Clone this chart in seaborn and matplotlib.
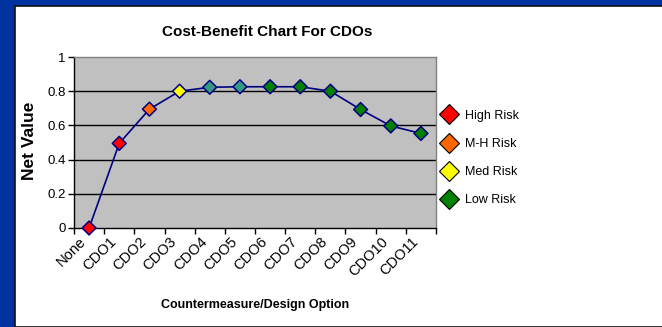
import numpy as np
import pandas as pd
import matplotlib
matplotlib.use('Agg')
import matplotlib.pyplot as plt
import seaborn as sns
from matplotlib.lines import Line2D
from matplotlib.patches import Rectangle

# data
options = ['None', 'CDO1', 'CDO2', 'CDO3', 'CDO4', 'CDO5', 'CDO6',
           'CDO7', 'CDO8', 'CDO9', 'CDO10', 'CDO11']
net_value = [0.0, 0.495, 0.695, 0.80, 0.823, 0.826, 0.826,
             0.826, 0.80, 0.693, 0.597, 0.553]
marker_colors = ['#FF0000', '#FF0000', '#FF6600', '#FFFF00', '#339980', '#339980',
                 '#008000', '#008000', '#008000', '#008000', '#008000', '#008000']
legend_labels = ['High Risk', 'M-H Risk', 'Med Risk', 'Low Risk']
legend_colors = ['#FF0000', '#FF6600', '#FFFF00', '#008000']
y_ticks = [0, 0.2, 0.4, 0.6, 0.8, 1]

sns.set_style('white')
plt.rcParams['font.family'] = ['Liberation Sans', 'DejaVu Sans']
plt.rcParams['text.color'] = 'black'
plt.rcParams['xtick.color'] = 'black'
plt.rcParams['ytick.color'] = 'black'

df = pd.DataFrame({'pos': np.arange(len(options)), 'option': options,
                   'value': net_value, 'color': marker_colors})

W, H = 662, 327
fig = plt.figure(figsize=(W / 100, H / 100), dpi=100, facecolor='#0033A0')
# white slide panel with dark edge
fig.patches.append(Rectangle((15 / W, 0), 1, 1 - 6 / H, transform=fig.transFigure,
                             facecolor='white', edgecolor='#101010', linewidth=1.2,
                             zorder=-5))

ax = fig.add_axes([74 / W, 1 - 228 / H, (436 - 74) / W, (228 - 57) / H])
ax.set_zorder(2)
ax.set_facecolor('#C0C0C0')

sns.lineplot(data=df, x='pos', y='value', color='#000080', linewidth=1.2, ax=ax,
             zorder=3)
sns.scatterplot(data=df, x='pos', y='value', hue='option',
                palette=dict(zip(options, marker_colors)), marker='D', s=50,
                edgecolor='#000080', linewidth=1.1, legend=False, ax=ax, zorder=4,
                clip_on=False)

ax.set_xlim(-0.5, len(options) - 0.5)
ax.set_ylim(0, 1)
ax.set_yticks(y_ticks)
ax.set_yticklabels(['0', '0.2', '0.4', '0.6', '0.8', '1'], fontsize=9.5)
for yv in y_ticks[1:-1]:
    ax.axhline(yv, color='black', linewidth=1.0, zorder=1)

# tick marks on the category edges, labels just left of the centres
ax.set_xticks(np.arange(-0.5, len(options), 1.0))
ax.set_xticklabels([])
ax.set_xticks(np.arange(len(options)) - 0.33, minor=True)
ax.set_xticklabels(options, minor=True, rotation=45, ha='right', va='top',
                   rotation_mode='anchor', fontsize=10.5)
ax.tick_params(axis='x', which='major', direction='out', length=4, width=1,
               color='black', bottom=True)
ax.tick_params(axis='x', which='minor', length=0, pad=5)
ax.tick_params(axis='y', direction='out', length=4, width=1, color='black', left=True,
               pad=2)

for side in ['top', 'right']:
    ax.spines[side].set_color('#808080')
    ax.spines[side].set_linewidth(1.0)
for side in ['left', 'bottom']:
    ax.spines[side].set_color('black')
    ax.spines[side].set_linewidth(1.0)

ax.set_xlabel('')
ax.set_ylabel('')
fig.text(267 / W, 1 - 32 / H, 'Cost-Benefit Chart For CDOs', ha='center', va='center',
         fontsize=11, fontweight='bold')
fig.text(255 / W, 1 - 305 / H, 'Countermeasure/Design Option', ha='center',
         va='center', fontsize=9, fontweight='bold')
fig.text(30 / W, 1 - 141 / H, 'Net Value', ha='center', va='center', rotation=90,
         fontsize=12.5, fontweight='bold')

handles = [Line2D([0], [0], marker='D', linestyle='none', markersize=10,
                  markerfacecolor=c, markeredgecolor='black', markeredgewidth=0.8)
           for c in legend_colors]
fig.legend(handles, legend_labels, loc='center left',
           bbox_to_anchor=(433 / W, 1 - 158 / H), frameon=False, fontsize=9,
           labelspacing=1.3, handletextpad=0.45, handlelength=1.6, borderpad=0)

fig.savefig('out.png', dpi=100, facecolor=fig.get_facecolor())
